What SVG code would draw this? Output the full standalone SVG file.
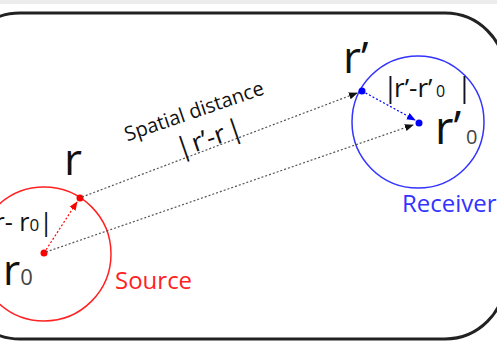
<svg xmlns="http://www.w3.org/2000/svg" width="497" height="344" viewBox="0 0 497 344">
<defs>
<style>
.t{font-family:"Open Sans","DejaVu Sans",sans-serif;fill:#111}
.dot{stroke-dasharray:2 2;fill:none}
</style>
<marker id="ak" viewBox="0 0 10 10" refX="9" refY="5" markerWidth="9" markerHeight="9" markerUnits="userSpaceOnUse" orient="auto"><path d="M0,1 L10,5 L0,9 z" fill="#111"/></marker>
<marker id="ar" viewBox="0 0 10 10" refX="9" refY="5" markerWidth="9" markerHeight="9" markerUnits="userSpaceOnUse" orient="auto"><path d="M0,1 L10,5 L0,9 z" fill="#f00"/></marker>
<marker id="ab" viewBox="0 0 10 10" refX="9" refY="5" markerWidth="9" markerHeight="9" markerUnits="userSpaceOnUse" orient="auto"><path d="M0,1 L10,5 L0,9 z" fill="#00f"/></marker>
</defs>
<rect x="0" y="0" width="497" height="344" fill="#fff"/>
<rect x="0" y="0" width="497" height="4" fill="#ececec"/>
<rect id="frame" x="-40" y="13" width="545" height="326" rx="60" ry="60" fill="none" stroke="#222" stroke-width="3"/>
<g id="source">
<circle cx="44" cy="254" r="67" fill="none" stroke="#f22" stroke-width="1.5"/>
<circle cx="44" cy="253" r="3.5" fill="#f00"/>
<circle cx="80" cy="198" r="3.5" fill="#f00"/>
<text class="t" x="115" y="289" font-size="24" style="fill:#f22">Source</text>
<text class="t" x="64" y="175" font-size="44">r</text>
<text class="t" x="3" y="285" font-size="42">r<tspan font-size="22" style="fill:#444">0</tspan></text>
<text class="t" x="53" y="231" font-size="25" text-anchor="end">|r- r<tspan font-size="17">0</tspan>|</text>
</g>
<g id="receiver">
<circle cx="418" cy="122" r="66" fill="none" stroke="#33f" stroke-width="1.5"/>
<circle cx="362" cy="91" r="3.5" fill="#00f"/>
<circle cx="419" cy="123" r="3.5" fill="#00f"/>
<text class="t" x="402" y="212" font-size="24" style="fill:#33f">Receiver</text>
<text class="t" x="343" y="73" font-size="44">r’</text>
<text class="t" x="435" y="144" font-size="45">r’<tspan x="466" font-size="20" style="fill:#444">0</tspan></text>
<text class="t" y="97" font-size="26"><tspan x="383" font-size="27">|</tspan><tspan x="394">r’-r’</tspan><tspan x="436" font-size="16">0</tspan><tspan x="457" font-size="27">|</tspan></text>
</g>
<g id="connectors">
<line class="dot" x1="44" y1="253" x2="77" y2="202" stroke="#f00" stroke-width="1.2" marker-end="url(#ar)"/>
<line class="dot" x1="362" y1="91" x2="415" y2="120" stroke="#00f" stroke-width="1.2" marker-end="url(#ab)"/>
<line class="dot" x1="82" y1="197" x2="357" y2="93" stroke="#555" stroke-width="1.2" marker-end="url(#ak)"/>
<line class="dot" x1="46" y1="252" x2="413" y2="125" stroke="#555" stroke-width="1.2" marker-end="url(#ak)"/>
</g>
<g id="distance-label">
<text class="t" transform="translate(194,111) rotate(-19)" x="0" y="7" font-size="20" text-anchor="middle">Spatial distance</text>
<text class="t" transform="translate(209,138) rotate(-19)" x="0" y="9" font-size="27" text-anchor="middle"><tspan>|</tspan><tspan dx="2" font-size="26">r’-r</tspan><tspan dx="3">|</tspan></text>
</g>
</svg>
